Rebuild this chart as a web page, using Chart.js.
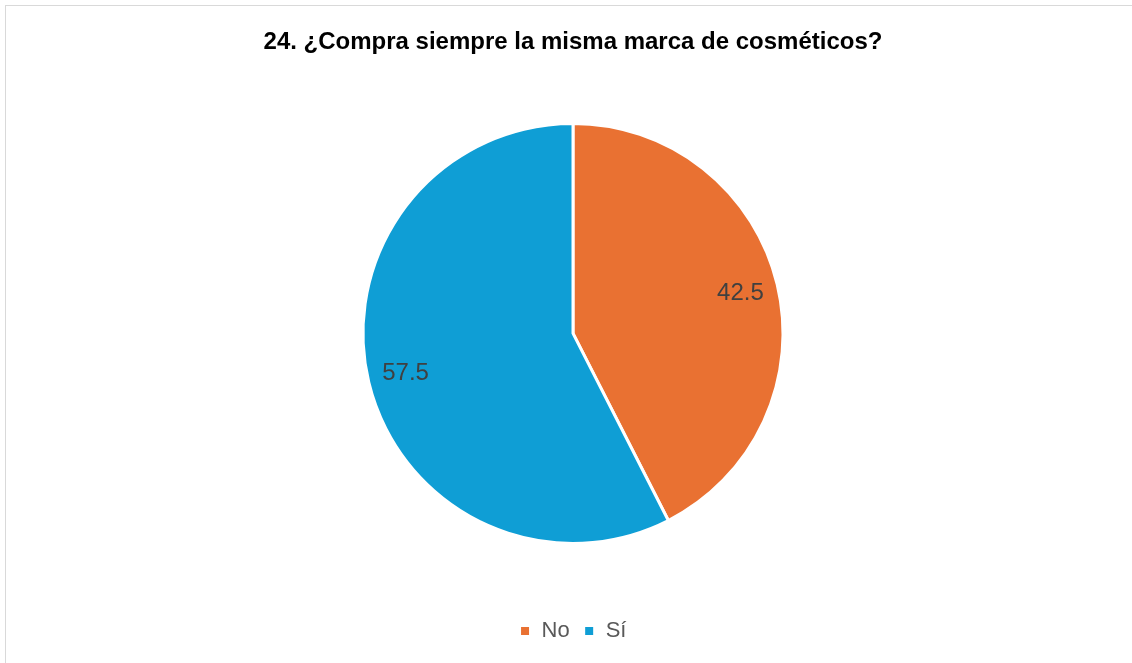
<!DOCTYPE html>
<html>
<head>
<meta charset="utf-8">
<script src="https://cdn.jsdelivr.net/npm/chart.js@4.4.1/dist/chart.umd.min.js"></script>
<style>
  html, body { margin: 0; padding: 0; background: #fff; overflow: hidden; }
  #frame {
    position: absolute; left: 5px; top: 5px;
    width: 1136px; height: 664px;
    border: 1px solid #d9d9d9; box-sizing: border-box;
  }
  #wrap { position: absolute; left: 0; top: 0; width: 1134px; height: 662px; }
</style>
</head>
<body>
<div id="frame"><div id="wrap"><canvas id="pieChart"></canvas></div></div>
<script>
// chart data
const categories = ["No", "Sí"];
const values = [42.5, 57.5];
const sliceColors = ["#E97132", "#0F9ED5"];
const chartTitle = "24. ¿Compra siempre la misma marca de cosméticos?";

// draw the value inside each slice, like the office chart does
const sliceLabels = {
  id: "sliceLabels",
  afterDatasetsDraw(chart) {
    const ctx = chart.ctx;
    const meta = chart.getDatasetMeta(0);
    ctx.save();
    ctx.font = "24px 'Liberation Sans', Arial, sans-serif";
    ctx.fillStyle = "#404040";
    ctx.textAlign = "center";
    ctx.textBaseline = "middle";
    meta.data.forEach((arc, i) => {
      const p = arc.getProps(["x", "y", "startAngle", "endAngle", "outerRadius"], true);
      const mid = (p.startAngle + p.endAngle) / 2;
      const r = p.outerRadius * 0.82;
      ctx.fillText(String(values[i]), p.x + Math.cos(mid) * r, p.y + Math.sin(mid) * r);
    });
    ctx.restore();
  }
};

const ctx = document.getElementById("pieChart").getContext("2d");
window.pieChart = new Chart(ctx, {
  type: "pie",
  data: {
    labels: categories,
    datasets: [{
      data: values,
      backgroundColor: sliceColors,
      borderColor: "#ffffff",
      borderWidth: 3,
      radius: 210
    }]
  },
  options: {
    responsive: true,
    maintainAspectRatio: false,
    animation: false,
    layout: { padding: { top: 0, bottom: 16 } },
    plugins: {
      title: {
        display: true,
        text: chartTitle,
        color: "#000000",
        font: { family: "'Liberation Sans', Arial, sans-serif", size: 24, weight: "bold" },
        padding: { top: 22, bottom: 4 }
      },
      legend: {
        position: "bottom",
        labels: {
          boxWidth: 11,
          boxHeight: 11,
          color: "#595959",
          font: { family: "'Liberation Sans', Arial, sans-serif", size: 22 },
          padding: 14
        }
      },
      tooltip: { enabled: false }
    }
  },
  plugins: [sliceLabels]
});
</script>
</body>
</html>
